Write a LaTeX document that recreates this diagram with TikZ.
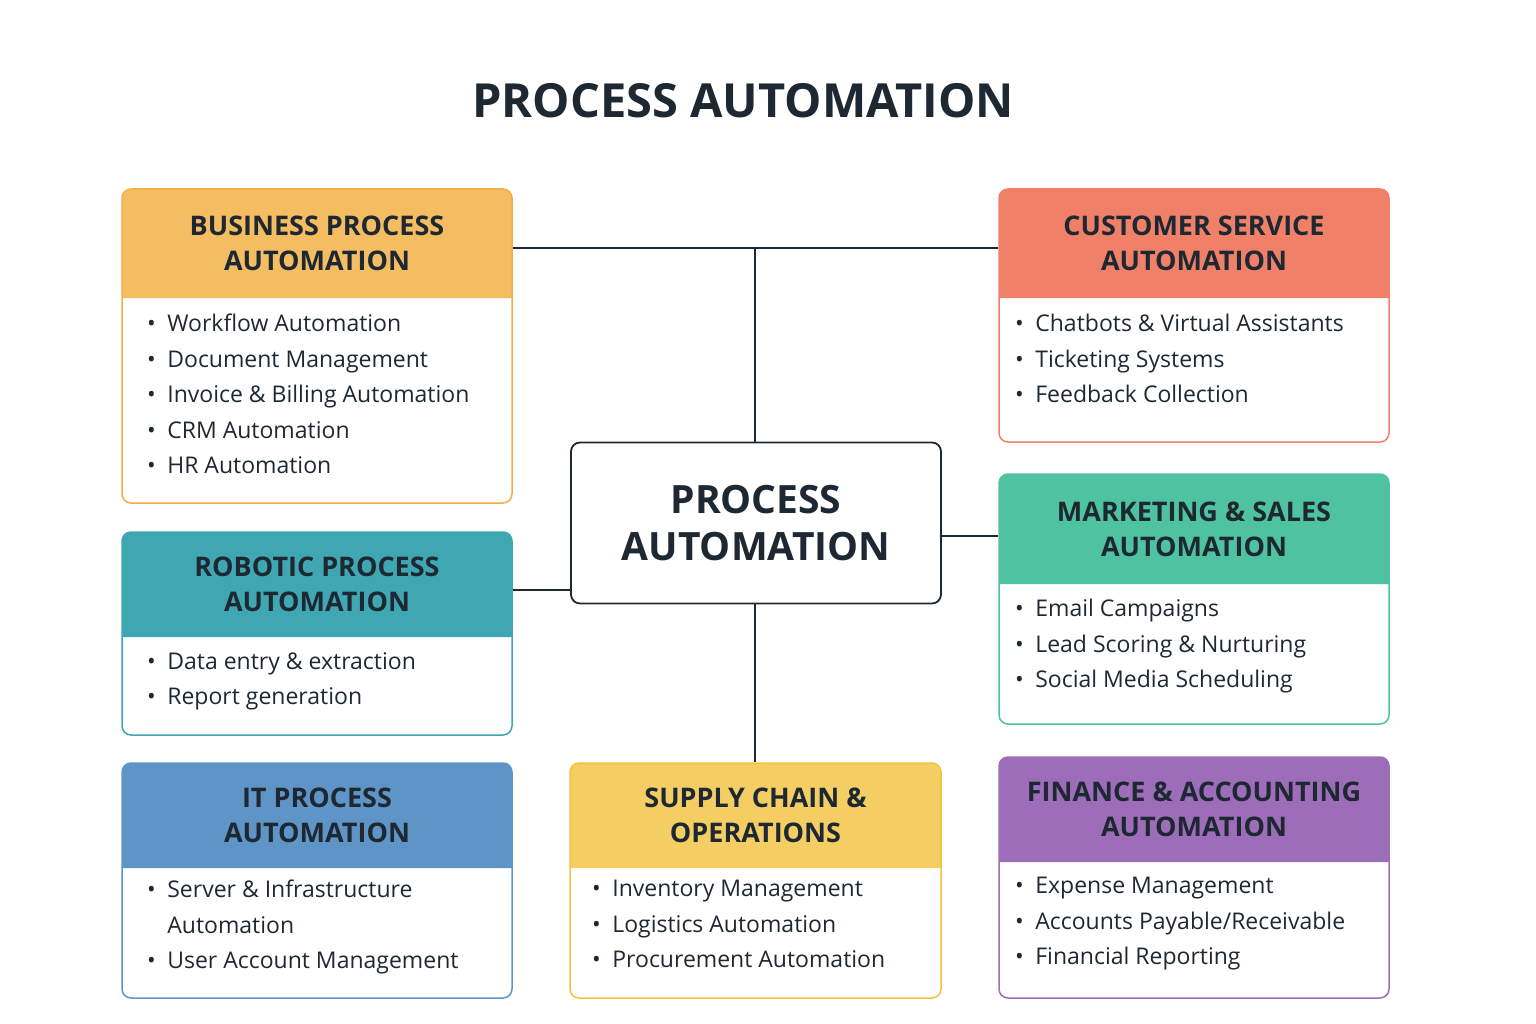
\documentclass[tikz,border=0pt]{standalone}
\usepackage{fontspec}
\setmainfont{Open Sans}
\usetikzlibrary{positioning}
\definecolor{ink}{HTML}{1E2833}
\definecolor{bpaC}{HTML}{F5BD62}
\definecolor{csaC}{HTML}{F08068}
\definecolor{rpaC}{HTML}{3FA7B2}
\definecolor{msaC}{HTML}{4FC3A1}
\definecolor{itaC}{HTML}{5E95C6}
\definecolor{scoC}{HTML}{F4CE63}
\definecolor{finC}{HTML}{9E6DBA}
\definecolor{bpaB}{HTML}{F2AE45}
\definecolor{scoB}{HTML}{F2C240}
\tikzset{
  heading/.style={font=\fontsize{27}{35}\selectfont\bfseries, text=ink, align=center},
  items/.style={font=\fontsize{23}{35.5}\selectfont, text=ink, align=left, anchor=north west, inner sep=0},
  link/.style={draw=ink, line width=1.6pt},
}
% name, colour, border, x1, y1, x2, y2, header bottom, title, items
\newcommand{\card}[9]{%
  \fill[#2] (#4,#8) {[rounded corners=9pt] -- (#4,#5) -- (#6,#5)} -- (#6,#8) -- cycle;
  \node[draw=#3, line width=1.5pt, rounded corners=9pt, minimum width=#6pt-#4pt, minimum height=#7pt-#5pt, inner sep=0] (#1) at ({(#4+#6)/2},{(#5+#7)/2}) {};
  \node[heading] (#1-head) at ({(#4+#6)/2},{(#5+#8)/2}) {#9};
}
\newcommand{\bul}{\textbullet\hspace{0.5em}}
\begin{document}
\begin{tikzpicture}[x=1pt, y=-1pt]
\useasboundingbox (0,0) rectangle (1536,1024);
\node[font=\fontsize{47}{50}\selectfont\bfseries, text=ink] (title) at (743,101) {PROCESS AUTOMATION};

\card{bpa}{bpaC}{bpaB}{122}{189}{512}{503}{298}{BUSINESS PROCESS\\AUTOMATION}
\node[items] (bpa-list) at (147,314) {\bul Workflow Automation\\\bul Document Management\\\bul Invoice \& Billing Automation\\\bul CRM Automation\\\bul HR Automation};

\card{csa}{csaC}{csaC}{999}{189}{1389}{442}{298}{CUSTOMER SERVICE\\AUTOMATION}
\node[items] (csa-list) at (1015,314) {\bul Chatbots \& Virtual Assistants\\\bul Ticketing Systems\\\bul Feedback Collection};

\card{rpa}{rpaC}{rpaC}{122}{532}{512}{735}{637}{ROBOTIC PROCESS\\AUTOMATION}
\node[items] (rpa-list) at (147,652) {\bul Data entry \& extraction\\\bul Report generation};

\card{msa}{msaC}{msaC}{999}{474}{1389}{724}{584}{MARKETING \& SALES\\AUTOMATION}
\node[items] (msa-list) at (1015,599) {\bul Email Campaigns\\\bul Lead Scoring \& Nurturing\\\bul Social Media Scheduling};

\card{ita}{itaC}{itaC}{122}{763}{512}{998}{868}{IT PROCESS\\AUTOMATION}
\node[items] (ita-list) at (147,880) {\bul Server \& Infrastructure\\\phantom{\bul}Automation\\\bul User Account Management};

\card{sco}{scoC}{scoB}{570}{763}{941}{998}{868}{SUPPLY CHAIN \&\\OPERATIONS}
\node[items] (sco-list) at (592,880) {\bul Inventory Management\\\bul Logistics Automation\\\bul Procurement Automation};

\card{fin}{finC}{finC}{999}{757}{1389}{998}{862}{FINANCE \& ACCOUNTING\\AUTOMATION}
\node[items] (fin-list) at (1015,877) {\bul Expense Management\\\bul Accounts Payable/Receivable\\\bul Financial Reporting};

\node[draw=ink, line width=1.8pt, rounded corners=9pt, minimum width=370pt, minimum height=161pt, fill=white, font=\fontsize{39}{47}\selectfont\bfseries, text=ink, align=center] (core) at (756,523) {PROCESS\\AUTOMATION};

\coordinate (hub) at (755,248);
\draw[link] (bpa.east |- hub) -- (csa.west |- hub);
\draw[link] (hub) -- (hub |- core.north);
\draw[link] (rpa.east |- 0,590) -- (core.west |- 0,590);
\draw[link] (core.east |- 0,536) -- (msa.west |- 0,536);
\draw[link] (core.south -| hub) -- (sco.north -| hub);
\end{tikzpicture}
\end{document}
